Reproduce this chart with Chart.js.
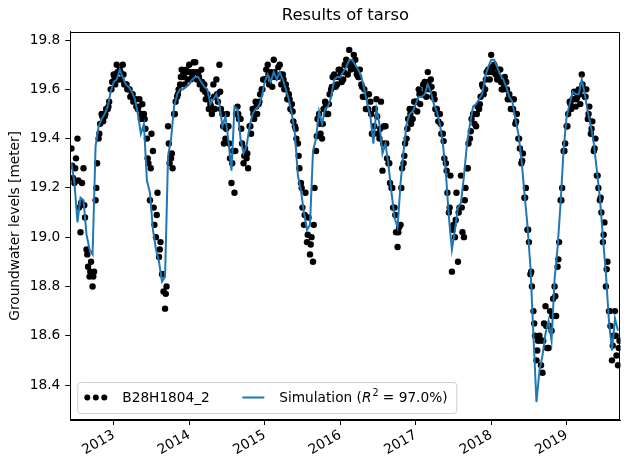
<!DOCTYPE html>
<html>
<head>
<meta charset="utf-8">
<script src="https://cdn.jsdelivr.net/npm/chart.js@4.4.1/dist/chart.umd.min.js"></script>
<style>
  body { margin: 0; background: #fff; }
  #chart { display: block; }
</style>
</head>
<body>
<canvas id="chart" width="630" height="469"></canvas>
<script>
// Sampling of the record: one reading every 0.04 year starting mid 2012.
// observedMid is read half a step later, observedCentre (middle of the
// dot band) a quarter step later.
const sampleStart = 2012.44;
const sampleStep = 0.04;

const yearTicks = [2013, 2014, 2015, 2016, 2017, 2018, 2019];
const levelTicks = [18.4, 18.6, 18.8, 19.0, 19.2, 19.4, 19.6, 19.8];

// Measured groundwater level B28H1804_2 [m]
const observed = [
    19.36, 19.22, 19.40, 19.02, 19.28, 18.95, 18.84, 18.80, 19.15, 19.40,
    19.50, 19.49, 19.52, 19.60, 19.66, 19.70, 19.68, 19.70, 19.62, 19.60,
    19.58, 19.56, 19.52, 19.48, 19.50, 19.40, 19.15, 19.35, 19.00, 18.92,
    18.85, 18.71, 19.45, 19.32, 19.50, 19.57, 19.62, 19.66, 19.68, 19.70,
    19.65, 19.71, 19.67, 19.68, 19.62, 19.58, 19.54, 19.62, 19.64, 19.70,
    19.50, 19.40, 19.45, 19.22, 19.18, 19.53, 19.48, 19.30, 19.32, 19.45,
    19.52, 19.55, 19.54, 19.60, 19.64, 19.70, 19.67, 19.72, 19.65, 19.70,
    19.66, 19.62, 19.58, 19.54, 19.45, 19.38, 19.22, 19.05, 18.98, 18.93,
    18.90, 19.35, 19.50, 19.40, 19.55, 19.50, 19.60, 19.66, 19.62, 19.68,
    19.64, 19.72, 19.76, 19.70, 19.72, 19.65, 19.62, 19.60, 19.52, 19.55,
    19.42, 19.56, 19.40, 19.27, 19.45, 19.30, 19.20, 19.12, 18.96, 19.05,
    19.30, 19.40, 19.52, 19.48, 19.55, 19.60, 19.58, 19.63, 19.67, 19.64,
    19.58, 19.52, 19.50, 19.42, 19.30, 19.10, 18.86, 19.00, 18.90, 19.25,
    19.00, 19.28, 19.40, 19.50, 19.45, 19.52, 19.62, 19.60, 19.68, 19.74,
    19.70, 19.64, 19.68, 19.60, 19.63, 19.58, 19.52, 19.46, 19.40, 19.30,
    19.16, 19.03, 18.85, 18.70, 18.50, 18.60, 18.45, 18.72, 18.55, 18.62,
    18.80, 18.88, 19.15, 19.35, 19.45, 19.55, 19.56, 19.53, 19.60, 19.66,
    19.57, 19.48, 19.42, 19.35, 19.25, 19.15, 18.98, 18.80, 18.70, 18.50,
    18.70, 18.48
];

const observedMid = [
    19.24, 19.32, 19.12, 19.22, 19.08, 18.88, 18.90, 18.86, 19.30, 19.46,
    19.47, 19.52, 19.55, 19.63, 19.62, 19.64, 19.64, 19.62, 19.60, 19.57,
    19.55, 19.53, 19.56, 19.54, 19.44, 19.30, 19.42, 19.05, 19.18, 18.98,
    18.78, 18.80, 19.30, 19.28, 19.55, 19.60, 19.68, 19.62, 19.64, 19.64,
    19.71, 19.64, 19.62, 19.60, 19.56, 19.52, 19.50, 19.52, 19.55, 19.52,
    19.38, 19.50, 19.32, 19.35, 19.50, 19.48, 19.38, 19.36, 19.28, 19.42,
    19.48, 19.50, 19.58, 19.64, 19.68, 19.62, 19.61, 19.65, 19.69, 19.62,
    19.60, 19.56, 19.52, 19.47, 19.40, 19.28, 19.12, 19.18, 19.08, 19.00,
    19.20, 19.48, 19.42, 19.52, 19.50, 19.58, 19.65, 19.61, 19.68, 19.63,
    19.70, 19.66, 19.68, 19.74, 19.66, 19.68, 19.57, 19.52, 19.58, 19.42,
    19.52, 19.42, 19.55, 19.45, 19.32, 19.22, 19.12, 19.02, 19.04, 19.28,
    19.38, 19.48, 19.46, 19.55, 19.51, 19.54, 19.62, 19.57, 19.60, 19.57,
    19.52, 19.47, 19.42, 19.32, 19.18, 19.25, 19.05, 19.18, 19.12, 19.02,
    19.20, 19.38, 19.48, 19.46, 19.53, 19.57, 19.58, 19.67, 19.64, 19.67,
    19.66, 19.68, 19.60, 19.65, 19.56, 19.52, 19.56, 19.50, 19.36, 19.34,
    19.20, 18.98, 18.80, 18.60, 18.58, 18.48, 18.65, 18.55, 18.70, 18.75,
    18.68, 18.98, 19.20, 19.38, 19.50, 19.52, 19.59, 19.57, 19.54, 19.60,
    19.60, 19.53, 19.47, 19.40, 19.20, 19.10, 19.06, 18.90, 18.64, 18.60,
    18.52, 18.58
];

const observedCentre = [
    19.29, 19.28, 19.23, 19.14, 19.13, 18.93, 18.86, 18.84, 19.20, 19.42,
    19.49, 19.50, 19.53, 19.60, 19.65, 19.67, 19.67, 19.66, 19.62, 19.60,
    19.58, 19.56, 19.53, 19.50, 19.48, 19.32, 19.28, 19.12, 19.09, 18.95,
    18.85, 18.77, 19.38, 19.34, 19.50, 19.58, 19.65, 19.65, 19.67, 19.67,
    19.67, 19.67, 19.65, 19.63, 19.59, 19.56, 19.53, 19.57, 19.58, 19.59,
    19.45, 19.44, 19.38, 19.30, 19.35, 19.50, 19.44, 19.33, 19.34, 19.45,
    19.50, 19.53, 19.55, 19.60, 19.64, 19.66, 19.65, 19.67, 19.65, 19.66,
    19.64, 19.60, 19.56, 19.51, 19.44, 19.33, 19.20, 19.09, 19.01, 18.97,
    19.05, 19.41, 19.46, 19.46, 19.54, 19.54, 19.61, 19.65, 19.65, 19.67,
    19.67, 19.70, 19.71, 19.71, 19.68, 19.65, 19.61, 19.57, 19.52, 19.50,
    19.45, 19.49, 19.44, 19.38, 19.38, 19.30, 19.20, 19.09, 19.02, 19.20,
    19.33, 19.44, 19.50, 19.52, 19.55, 19.58, 19.58, 19.60, 19.63, 19.61,
    19.56, 19.50, 19.46, 19.39, 19.27, 19.12, 19.03, 19.07, 19.10, 19.12,
    19.15, 19.28, 19.43, 19.50, 19.50, 19.54, 19.61, 19.64, 19.67, 19.69,
    19.69, 19.65, 19.63, 19.62, 19.60, 19.56, 19.52, 19.47, 19.40, 19.31,
    19.16, 19.03, 18.86, 18.65, 18.54, 18.58, 18.58, 18.64, 18.64, 18.68,
    18.76, 18.91, 19.15, 19.35, 19.45, 19.54, 19.56, 19.56, 19.58, 19.62,
    19.57, 19.50, 19.44, 19.36, 19.25, 19.16, 19.01, 18.87, 18.70, 18.56,
    18.60, 18.55
];

// tarso simulation [m]
const simulated = [
    19.30, 19.22, 19.06, 19.16, 19.15, 19.01, 18.95, 18.93, 19.37, 19.45,
    19.48, 19.50, 19.53, 19.59, 19.63, 19.64, 19.68, 19.65, 19.62, 19.61,
    19.59, 19.56, 19.50, 19.42, 19.46, 19.23, 19.18, 19.03, 18.95, 18.90,
    18.82, 18.84, 19.33, 19.40, 19.53, 19.58, 19.60, 19.60, 19.61, 19.62,
    19.64, 19.65, 19.65, 19.63, 19.61, 19.60, 19.54, 19.56, 19.58, 19.54,
    19.45, 19.49, 19.39, 19.27, 19.53, 19.52, 19.40, 19.34, 19.37, 19.45,
    19.50, 19.52, 19.53, 19.57, 19.63, 19.66, 19.63, 19.67, 19.64, 19.67,
    19.64, 19.60, 19.56, 19.50, 19.42, 19.25, 19.19, 19.10, 19.03, 19.05,
    19.35, 19.40, 19.51, 19.46, 19.52, 19.53, 19.57, 19.64, 19.65, 19.65,
    19.67, 19.69, 19.72, 19.72, 19.70, 19.68, 19.65, 19.60, 19.54, 19.49,
    19.38, 19.52, 19.46, 19.34, 19.38, 19.29, 19.18, 19.08, 19.04, 19.22,
    19.35, 19.46, 19.50, 19.51, 19.54, 19.57, 19.57, 19.58, 19.62, 19.59,
    19.54, 19.51, 19.46, 19.38, 19.26, 19.08, 18.95, 19.03, 19.12, 19.14,
    19.25, 19.38, 19.46, 19.53, 19.54, 19.56, 19.58, 19.65, 19.69, 19.72,
    19.72, 19.69, 19.66, 19.64, 19.61, 19.57, 19.55, 19.48, 19.42, 19.32,
    19.18, 19.05, 18.88, 18.60, 18.33, 18.46, 18.52, 18.61, 18.66, 18.58,
    18.83, 18.96, 19.14, 19.36, 19.49, 19.54, 19.59, 19.58, 19.58, 19.64,
    19.58, 19.51, 19.45, 19.38, 19.27, 19.16, 19.00, 18.85, 18.66, 18.54,
    18.67, 18.62
];

const FONT = "'DejaVu Sans', sans-serif";

function toPoints(values, offset) {
    return values.map((v, i) => ({ x: sampleStart + offset + i * sampleStep, y: v }));
}

// box around the axes, like matplotlib spines
const frame = {
    id: 'frame',
    afterDatasetsDraw(chart) {
        const a = chart.chartArea;
        const ctx = chart.ctx;
        ctx.save();
        ctx.strokeStyle = '#000';
        ctx.lineWidth = 1;
        ctx.strokeRect(Math.round(a.left) + 0.5, Math.round(a.top) + 0.5,
            Math.round(a.right - a.left) - 1, Math.round(a.bottom - a.top) - 1);
        ctx.restore();
    }
};

// legend in the lower left corner of the axes
const innerLegend = {
    id: 'innerLegend',
    afterDraw(chart) {
        const a = chart.chartArea;
        const ctx = chart.ctx;
        const x0 = a.left + 7, y1 = a.bottom - 7;
        const w = 379, h = 31, y0 = y1 - h, cy = y0 + h / 2;
        ctx.save();
        ctx.beginPath();
        ctx.roundRect(x0 + 0.5, y0 + 0.5, w, h, 3);
        ctx.fillStyle = 'rgba(255,255,255,0.8)';
        ctx.fill();
        ctx.strokeStyle = '#d0d0d0';
        ctx.lineWidth = 1;
        ctx.stroke();

        ctx.fillStyle = '#000';
        [x0 + 10, x0 + 18.5, x0 + 27].forEach(px => {
            ctx.beginPath();
            ctx.arc(px, cy, 3, 0, Math.PI * 2);
            ctx.fill();
        });
        ctx.font = '13.7px ' + FONT;
        ctx.textBaseline = 'middle';
        ctx.fillText('B28H1804_2', x0 + 45, cy + 1);

        ctx.strokeStyle = '#1f77b4';
        ctx.lineWidth = 2;
        ctx.beginPath();
        ctx.moveTo(x0 + 165, cy);
        ctx.lineTo(x0 + 187, cy);
        ctx.stroke();

        let tx = x0 + 202;
        const part = (txt, font, dy) => {
            ctx.font = font;
            ctx.fillText(txt, tx, cy + 1 + dy);
            tx += ctx.measureText(txt).width;
        };
        part('Simulation (', '13.7px ' + FONT, 0);
        part('R', 'italic 13.7px ' + FONT, 0);
        tx += 1;
        part('2', '9.6px ' + FONT, -5);
        part(' = 97.0%)', '13.7px ' + FONT, 0);
        ctx.restore();
    }
};

new Chart(document.getElementById('chart'), {
    type: 'scatter',
    data: {
        datasets: [{
            label: 'Simulation',
            data: toPoints(simulated, 0),
            showLine: true,
            borderColor: '#1f77b4',
            borderWidth: 2,
            pointRadius: 0,
            order: 0
        }, {
            label: 'B28H1804_2',
            data: toPoints(observed, 0)
                .concat(toPoints(observedCentre, sampleStep / 4))
                .concat(toPoints(observedMid, sampleStep / 2)),
            showLine: false,
            backgroundColor: '#000',
            borderColor: '#000',
            borderWidth: 0,
            pointRadius: 3.2,
            order: 1
        }]
    },
    options: {
        responsive: false,
        animation: false,
        devicePixelRatio: 1,
        layout: { padding: { left: 0, right: 9.5, top: 0, bottom: 0 } },
        plugins: {
            legend: { display: false },
            tooltip: { enabled: false },
            title: {
                display: true,
                text: 'Results of tarso',
                color: '#000',
                fullSize: false,
                font: { family: FONT, size: 16.4, weight: 'normal' },
                padding: { top: 6, bottom: 6 }
            }
        },
        scales: {
            x: {
                type: 'linear',
                min: 2012.425,
                max: 2019.713,
                afterFit(scale) { scale.height = 49; },
                afterBuildTicks(scale) {
                    scale.ticks = yearTicks.map(v => ({ value: v }));
                },
                grid: { display: true, drawOnChartArea: false, drawTicks: true, tickLength: 5, color: '#000' },
                border: { display: true, color: '#000', width: 1 },
                ticks: {
                    autoSkip: false,
                    minRotation: 30,
                    maxRotation: 30,
                    padding: 2,
                    color: '#000',
                    font: { family: FONT, size: 13.7 },
                    callback: v => String(v)
                }
            },
            y: {
                min: 18.258,
                max: 19.834,
                afterFit(scale) { scale.width = 70.3; },
                afterBuildTicks(scale) {
                    scale.ticks = levelTicks.map(v => ({ value: v }));
                },
                grid: { display: true, drawOnChartArea: false, drawTicks: true, tickLength: 5, color: '#000' },
                border: { display: true, color: '#000', width: 1 },
                ticks: {
                    padding: 5,
                    color: '#000',
                    font: { family: FONT, size: 13.7 },
                    callback: v => v.toFixed(1)
                },
                title: {
                    display: true,
                    text: 'Groundwater levels [meter]',
                    color: '#000',
                    font: { family: FONT, size: 13.7 },
                    padding: { top: 7, bottom: 0 }
                }
            }
        }
    },
    plugins: [frame, innerLegend]
});
</script>
</body>
</html>
